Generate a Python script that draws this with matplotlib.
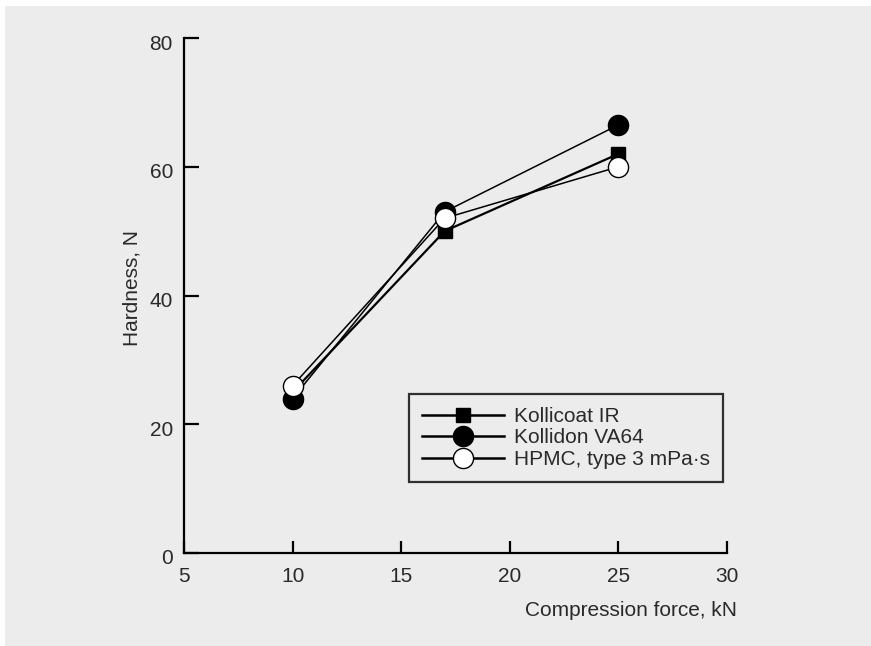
import matplotlib
matplotlib.use("Agg")
import matplotlib.pyplot as plt
import matplotlib.transforms as mtransforms
from matplotlib.patches import Rectangle
from matplotlib.lines import Line2D

force = [10, 17, 25]
kollicoat = [25, 50, 62]
kollidon = [24, 53, 66.5]
hpmc = [26, 52, 60]
labels = ["Kollicoat IR", "Kollidon VA64", "HPMC, type 3 mPa\u00b7s"]
xticks = [5, 10, 15, 20, 25, 30]
yticks = [0, 20, 40, 60, 80]

plt.rcParams['font.family'] = ['Liberation Sans', 'DejaVu Sans']
txt = '#2a2a2a'
fs = 15

fig = plt.figure(figsize=(8.71, 6.46), dpi=100)
fig.patch.set_facecolor('white')
fig.add_artist(Rectangle((5/871, 0), 1 - 5/871, 1 - 6/646, transform=fig.transFigure,
                         facecolor='#ececec', edgecolor='none', zorder=-10))

ax = fig.add_axes([184/871, 1 - 553/646, (727 - 184)/871, (553 - 38)/646])
ax.set_facecolor('none')

ax.plot(force, kollicoat, color='black', lw=1.6, marker='s', ms=10,
        mfc='black', mec='black', zorder=3)
ax.plot(force, kollidon, color='black', lw=1.1, marker='o', ms=14.5,
        mfc='black', mec='black', zorder=3)
ax.plot(force, hpmc, color='black', lw=1.1, marker='o', ms=14.5,
        mfc='white', mec='black', mew=1.0, zorder=4)

ax.set_xlim(5, 30)
ax.set_ylim(0, 80)
ax.set_xticks(xticks)
ax.set_yticks(yticks)
for s in ['top', 'right']:
    ax.spines[s].set_visible(False)
for s in ['left', 'bottom']:
    ax.spines[s].set_linewidth(1.6)
ax.tick_params(axis='both', direction='in', width=1.6,
               labelsize=fs, labelcolor=txt)
ax.tick_params(axis='x', pad=10, length=9)
ax.tick_params(axis='y', pad=8, length=11)
off = mtransforms.ScaledTranslation(0, -4/100, fig.dpi_scale_trans)
for lab in ax.get_yticklabels():
    lab.set_transform(lab.get_transform() + off)

ax.set_xlabel('Compression force, kN', fontsize=fs, color=txt, ha='right')
ax.xaxis.set_label_coords(1.0 + 10/543, -0.093)
ax.set_ylabel('Hardness, N', fontsize=fs, color=txt)
ax.yaxis.set_label_coords(-0.078, 0.515)

handles = [
    Line2D([], [], color='black', lw=1.8, marker='s', ms=10, mfc='black', mec='black'),
    Line2D([], [], color='black', lw=1.8, marker='o', ms=14.5, mfc='black', mec='black'),
    Line2D([], [], color='black', lw=1.8, marker='o', ms=14.5, mfc='white', mec='black'),
]
leg = ax.legend(handles, labels, loc='upper left', bbox_to_anchor=((409-184)/543, (553-394)/515),
                frameon=True, fancybox=False, fontsize=fs, labelcolor=txt,
                handlelength=3.95, handletextpad=0.45, labelspacing=0.12,
                borderpad=0.62, borderaxespad=0, facecolor='none')
leg.get_frame().set_edgecolor('black')
leg.get_frame().set_linewidth(1.6)

fig.savefig('out.png', dpi=100)
